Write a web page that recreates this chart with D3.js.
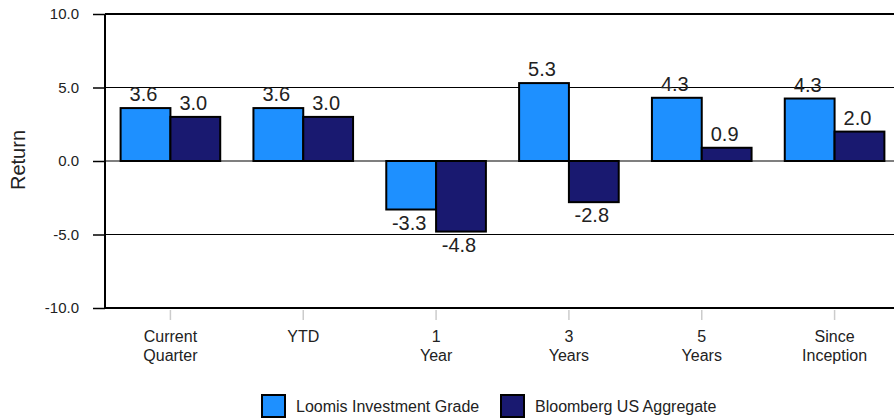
<!DOCTYPE html>
<html>
<head>
<meta charset="utf-8">
<script src="https://cdn.jsdelivr.net/npm/d3@7"></script>
<style>
  body { margin: 0; background: #fff; }
  svg { display: block; font-family: Arial, "Liberation Sans", sans-serif; }
</style>
</head>
<body>
<svg id="svg" width="894" height="419"></svg>
<script>
var categories = [['Current', 'Quarter'], ['YTD'], ['1', 'Year'], ['3', 'Years'], ['5', 'Years'], ['Since', 'Inception']];
var loomis = [3.6, 3.6, -3.3, 5.3, 4.3, 4.25];
var bloomberg = [3.0, 3.0, -4.8, -2.8, 0.9, 2.0];
var seriesNames = ['Loomis Investment Grade', 'Bloomberg US Aggregate'];
var seriesColors = ['#1e90ff', '#191970'];
var yTicks = [-10, -5, 0, 5, 10];

var svg = d3.select('svg');
var plotLeft = 105, plotRight = 905, plotTop = 14, plotBottom = 308;

var y = d3.scaleLinear().domain([-10, 10]).range([plotBottom, plotTop]);
var x = d3.scaleBand().domain(d3.range(categories.length)).range([104, 901])
  .paddingInner(0.25).paddingOuter(0.125);
// plain hyphen for negatives, like the original
var fmt = function (d) { return d3.format('.1f')(d).replace('\u2212', '-'); };

// gridlines / frame
svg.append('g').selectAll('line').data(yTicks).join('line')
  .attr('x1', plotLeft).attr('x2', plotRight)
  .attr('y1', function (d) { return y(d); }).attr('y2', function (d) { return y(d); })
  .attr('stroke', '#000')
  .attr('stroke-width', function (d) { return Math.abs(d) == 10 ? 2 : 1.2; });

svg.append('line').attr('x1', plotLeft).attr('x2', plotLeft).attr('y1', plotTop).attr('y2', plotBottom)
  .attr('stroke', '#000').attr('stroke-width', 2);

// y axis
var yAxis = svg.append('g').attr('transform', 'translate(' + plotLeft + ',0)')
  .call(d3.axisLeft(y).tickValues(yTicks).tickFormat(fmt).tickSize(12).tickPadding(14));
yAxis.select('.domain').remove();
yAxis.selectAll('line').attr('stroke', '#000').attr('stroke-width', 1.5);
yAxis.selectAll('text').attr('font-size', '15px').attr('fill', '#222')
  .attr('font-family', 'Arial, "Liberation Sans", sans-serif');

svg.append('text')
  .attr('transform', 'translate(25,160) rotate(-90)')
  .attr('text-anchor', 'middle')
  .attr('font-size', '20px').attr('fill', '#222')
  .text('Return');

// category ticks and labels
var xg = svg.append('g').selectAll('g').data(categories).join('g')
  .attr('transform', function (d, i) { return 'translate(' + (x(i) + x.bandwidth() / 2) + ',0)'; });
xg.append('line').attr('y1', 310).attr('y2', 320).attr('stroke', '#ccc').attr('stroke-width', 1.5);
xg.append('text').attr('text-anchor', 'middle').attr('font-size', '16px').attr('fill', '#222')
  .selectAll('tspan').data(function (d) { return d; }).join('tspan')
  .attr('x', 0).attr('y', function (d, j) { return 342 + j * 19; })
  .text(function (d) { return d; });

// bars
var series = [loomis, bloomberg];
var bw = x.bandwidth() / 2;
series.forEach(function (vals, s) {
  var g = svg.append('g');
  g.selectAll('rect').data(vals).join('rect')
    .attr('x', function (d, i) { return x(i) + s * bw; })
    .attr('y', function (d) { return y(Math.max(0, d)); })
    .attr('width', bw)
    .attr('height', function (d) { return Math.abs(y(d) - y(0)); })
    .attr('fill', seriesColors[s])
    .attr('stroke', '#000').attr('stroke-width', 2);
  g.selectAll('text').data(vals).join('text')
    .attr('x', function (d, i) { return x(i) + s * bw + bw / 2 - 2; })
    .attr('y', function (d) { return d >= 0 ? y(d) - 7 : y(d) + 20; })
    .attr('text-anchor', 'middle')
    .attr('font-size', '20px').attr('fill', '#222')
    .text(function (d) { return fmt(d); });
});

// legend
var legX = [262, 501];
var leg = svg.append('g').selectAll('g').data(seriesNames).join('g')
  .attr('transform', function (d, i) { return 'translate(' + legX[i] + ',395)'; });
leg.append('rect').attr('width', 23).attr('height', 22)
  .attr('fill', function (d, i) { return seriesColors[i]; })
  .attr('stroke', '#000').attr('stroke-width', 2);
leg.append('text').attr('x', 34).attr('y', 16.5)
  .attr('font-size', '16px').attr('fill', '#222')
  .text(function (d) { return d; });
</script>
</body>
</html>
